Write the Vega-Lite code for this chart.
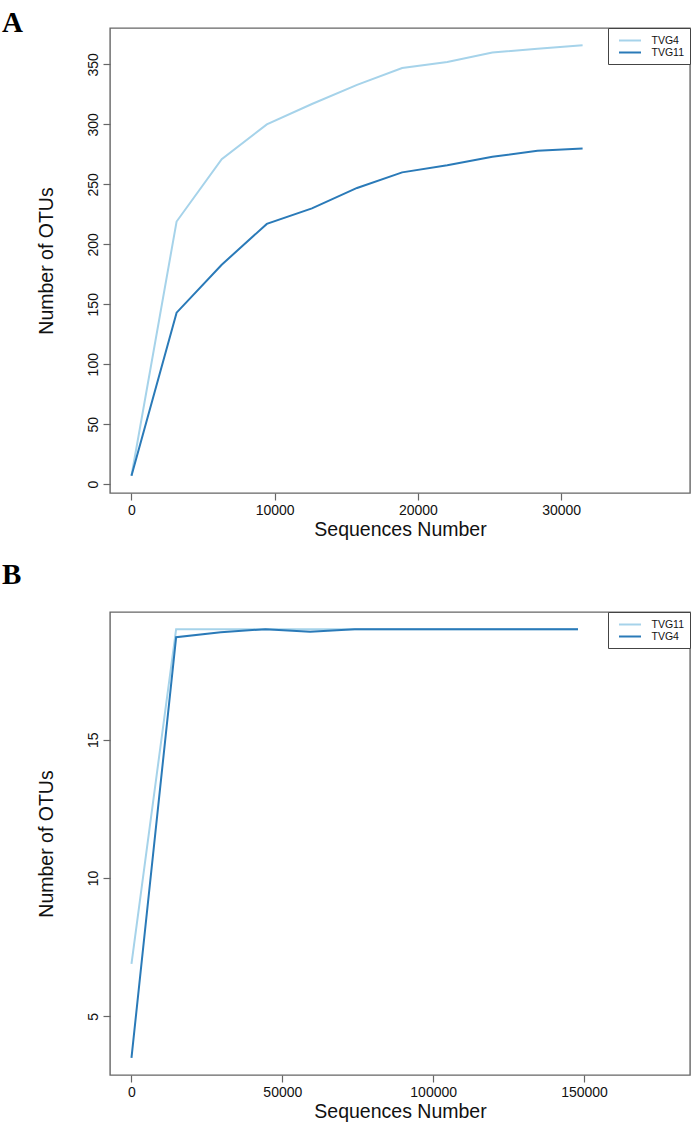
{
  "$schema": "https://vega.github.io/schema/vega-lite/v6.json",
  "padding": {"left": 1, "top": 7, "right": 5, "bottom": 0},
  "background": "white",
  "spacing": 19,
  "config": {
    "font": "Liberation Sans",
    "view": {"stroke": "#666666", "strokeWidth": 1.4},
    "axis": {
      "grid": false,
      "domain": false,
      "tickColor": "#666666",
      "tickSize": 7,
      "tickWidth": 1.2,
      "labelFont": "Liberation Sans",
      "labelFontSize": 14,
      "labelColor": "#111111",
      "titleFont": "Liberation Sans",
      "titleFontSize": 19.5,
      "titleFontWeight": "normal",
      "titleColor": "#111111"
    },
    "legend": {
      "orient": "top-right",
      "offset": 0,
      "title": null,
      "strokeColor": "#444444",
      "fillColor": "white",
      "padding": 6,
      "rowPadding": -1,
      "symbolType": "M-2,0H2",
      "symbolSize": 121,
      "symbolStrokeWidth": 2,
      "symbolOffset": 9.5,
      "labelOffset": 15,
      "labelFont": "Liberation Sans",
      "labelFontSize": 10.5,
      "labelColor": "#111111"
    },
    "title": {
      "font": "Liberation Serif",
      "fontSize": 29,
      "fontWeight": "bold",
      "anchor": "start",
      "color": "#000000"
    }
  },
  "resolve": {"scale": {"color": "independent"}, "legend": {"color": "independent"}},
  "vconcat": [
    {
      "width": 580,
      "height": 465,
      "title": {"text": "A", "dx": -34, "offset": -33, "baseline": "alphabetic"},
      "data": {
        "values": [
          {"seq": 0, "otus": 7, "sample": "TVG4"},
          {"seq": 3150, "otus": 219, "sample": "TVG4"},
          {"seq": 6300, "otus": 271, "sample": "TVG4"},
          {"seq": 9450, "otus": 300, "sample": "TVG4"},
          {"seq": 12600, "otus": 317, "sample": "TVG4"},
          {"seq": 15750, "otus": 333, "sample": "TVG4"},
          {"seq": 18900, "otus": 347, "sample": "TVG4"},
          {"seq": 22050, "otus": 352, "sample": "TVG4"},
          {"seq": 25200, "otus": 360, "sample": "TVG4"},
          {"seq": 28350, "otus": 363, "sample": "TVG4"},
          {"seq": 31500, "otus": 366, "sample": "TVG4"},
          {"seq": 0, "otus": 7, "sample": "TVG11"},
          {"seq": 3150, "otus": 143, "sample": "TVG11"},
          {"seq": 6300, "otus": 183, "sample": "TVG11"},
          {"seq": 9450, "otus": 217, "sample": "TVG11"},
          {"seq": 12600, "otus": 230, "sample": "TVG11"},
          {"seq": 15750, "otus": 247, "sample": "TVG11"},
          {"seq": 18900, "otus": 260, "sample": "TVG11"},
          {"seq": 22050, "otus": 266, "sample": "TVG11"},
          {"seq": 25200, "otus": 273, "sample": "TVG11"},
          {"seq": 28350, "otus": 278, "sample": "TVG11"},
          {"seq": 31500, "otus": 280, "sample": "TVG11"}
        ]
      },
      "mark": {"type": "line", "strokeWidth": 2},
      "encoding": {
        "x": {
          "field": "seq", "type": "quantitative",
          "scale": {"domain": [-1500, 39000], "nice": false, "zero": false},
          "axis": {"values": [0, 10000, 20000, 30000], "format": "d", "title": "Sequences Number", "labelPadding": 3, "titlePadding": 3}
        },
        "y": {
          "field": "otus", "type": "quantitative",
          "scale": {"domain": [-7.4, 380.4], "nice": false, "zero": false},
          "axis": {"values": [0, 50, 100, 150, 200, 250, 300, 350], "format": "d", "labelAngle": -90, "labelAlign": "center", "labelBaseline": "bottom", "labelPadding": 3, "title": "Number of OTUs", "titlePadding": 30}
        },
        "color": {
          "field": "sample", "type": "nominal",
          "scale": {"domain": ["TVG4", "TVG11"], "range": ["#a6d3ea", "#2a7ab8"]},
          "sort": ["TVG4", "TVG11"]
        }
      }
    },
    {
      "width": 580,
      "height": 463,
      "title": {"text": "B", "dx": -34, "offset": -1, "baseline": "alphabetic"},
      "data": {
        "values": [
          {"seq": 0, "otus": 6.9, "sample": "TVG11"},
          {"seq": 14800, "otus": 19, "sample": "TVG11"},
          {"seq": 29600, "otus": 19, "sample": "TVG11"},
          {"seq": 44400, "otus": 19, "sample": "TVG11"},
          {"seq": 59200, "otus": 19, "sample": "TVG11"},
          {"seq": 74000, "otus": 19, "sample": "TVG11"},
          {"seq": 88800, "otus": 19, "sample": "TVG11"},
          {"seq": 103600, "otus": 19, "sample": "TVG11"},
          {"seq": 118400, "otus": 19, "sample": "TVG11"},
          {"seq": 133200, "otus": 19, "sample": "TVG11"},
          {"seq": 148000, "otus": 19, "sample": "TVG11"},
          {"seq": 0, "otus": 3.5, "sample": "TVG4"},
          {"seq": 14800, "otus": 18.71, "sample": "TVG4"},
          {"seq": 29600, "otus": 18.89, "sample": "TVG4"},
          {"seq": 44400, "otus": 19, "sample": "TVG4"},
          {"seq": 59200, "otus": 18.91, "sample": "TVG4"},
          {"seq": 74000, "otus": 19, "sample": "TVG4"},
          {"seq": 88800, "otus": 19, "sample": "TVG4"},
          {"seq": 103600, "otus": 19, "sample": "TVG4"},
          {"seq": 118400, "otus": 19, "sample": "TVG4"},
          {"seq": 133200, "otus": 19, "sample": "TVG4"},
          {"seq": 148000, "otus": 19, "sample": "TVG4"}
        ]
      },
      "mark": {"type": "line", "strokeWidth": 2},
      "encoding": {
        "x": {
          "field": "seq", "type": "quantitative",
          "scale": {"domain": [-7120, 185120], "nice": false, "zero": false},
          "axis": {"values": [0, 50000, 100000, 150000], "format": "d", "title": "Sequences Number", "labelPadding": 3, "titlePadding": 3}
        },
        "y": {
          "field": "otus", "type": "quantitative",
          "scale": {"domain": [2.88, 19.62], "nice": false, "zero": false},
          "axis": {"values": [5, 10, 15], "format": "d", "labelAngle": -90, "labelAlign": "center", "labelBaseline": "bottom", "labelPadding": 3, "title": "Number of OTUs", "titlePadding": 30}
        },
        "color": {
          "field": "sample", "type": "nominal",
          "scale": {"domain": ["TVG11", "TVG4"], "range": ["#a6d3ea", "#2a7ab8"]},
          "sort": ["TVG11", "TVG4"]
        }
      }
    }
  ]
}
